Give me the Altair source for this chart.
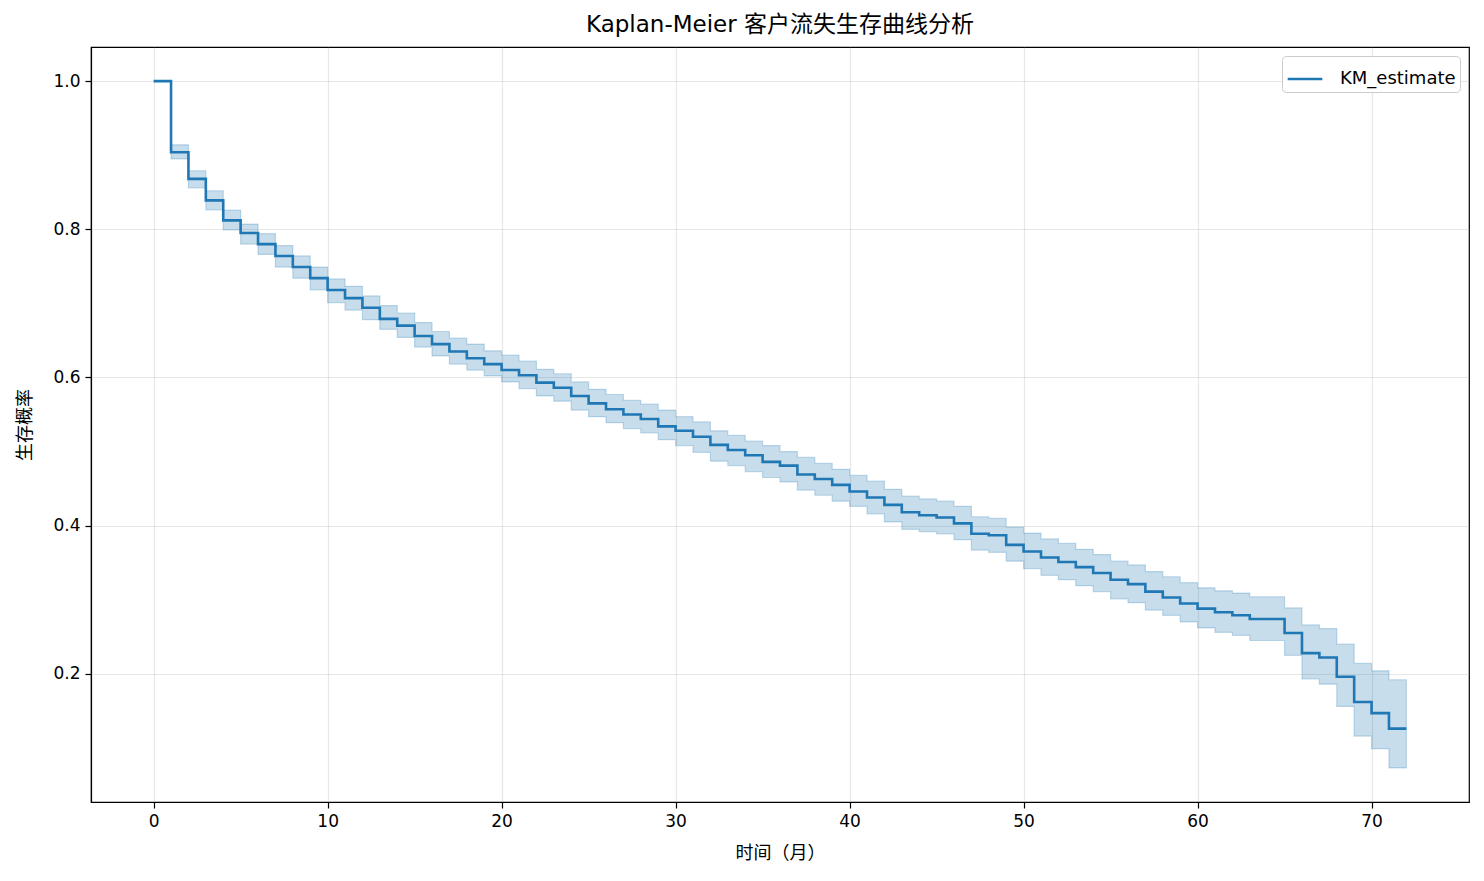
import altair as alt
import pandas as pd

times = list(range(0, 73))
survival = [1.0, 0.904, 0.868, 0.839, 0.812, 0.795, 0.780, 0.764, 0.749, 0.734,
            0.718, 0.707, 0.694, 0.679, 0.670, 0.656, 0.645, 0.635, 0.626, 0.618,
            0.610, 0.603, 0.593, 0.586, 0.575, 0.565, 0.557, 0.550, 0.544, 0.534,
            0.528, 0.520, 0.509, 0.502, 0.495, 0.486, 0.481, 0.469, 0.463, 0.455,
            0.446, 0.438, 0.428, 0.418, 0.414, 0.411, 0.403, 0.389, 0.387, 0.374,
            0.365, 0.357, 0.351, 0.344, 0.336, 0.327, 0.321, 0.311, 0.303, 0.295,
            0.288, 0.283, 0.279, 0.274, 0.274, 0.255, 0.228, 0.222, 0.196, 0.162,
            0.147, 0.126, 0.126]
upper = [1.0, 0.914, 0.879, 0.852, 0.826, 0.807, 0.794, 0.778, 0.764, 0.749,
         0.733, 0.723, 0.710, 0.697, 0.687, 0.674, 0.662, 0.653, 0.645, 0.636,
         0.630, 0.622, 0.611, 0.605, 0.594, 0.584, 0.577, 0.569, 0.564, 0.556,
         0.547, 0.540, 0.528, 0.522, 0.514, 0.508, 0.500, 0.492, 0.484, 0.476,
         0.468, 0.460, 0.449, 0.440, 0.436, 0.433, 0.426, 0.412, 0.410, 0.398,
         0.390, 0.382, 0.376, 0.368, 0.361, 0.352, 0.347, 0.338, 0.331, 0.323,
         0.316, 0.312, 0.309, 0.304, 0.304, 0.289, 0.266, 0.261, 0.240, 0.214,
         0.204, 0.192, 0.192]
lower = [1.0, 0.895, 0.856, 0.826, 0.799, 0.780, 0.766, 0.749, 0.734, 0.718,
         0.701, 0.691, 0.678, 0.665, 0.654, 0.641, 0.629, 0.618, 0.610, 0.602,
         0.594, 0.585, 0.575, 0.568, 0.556, 0.547, 0.539, 0.531, 0.525, 0.516,
         0.508, 0.499, 0.487, 0.481, 0.473, 0.465, 0.459, 0.448, 0.441, 0.433,
         0.426, 0.416, 0.405, 0.395, 0.392, 0.389, 0.381, 0.367, 0.364, 0.352,
         0.342, 0.333, 0.327, 0.319, 0.311, 0.301, 0.296, 0.286, 0.279, 0.270,
         0.262, 0.256, 0.252, 0.245, 0.245, 0.225, 0.193, 0.186, 0.156, 0.116,
         0.099, 0.073, 0.073]

x_ticks = [0, 10, 20, 30, 40, 50, 60, 70]
y_ticks = [0.2, 0.4, 0.6, 0.8, 1.0]

title_text = "Kaplan-Meier 客户流失生存曲线分析"
x_title = "时间（月）"
y_title = "生存概率"
series_name = "KM_estimate"

df = pd.DataFrame({"t": times, "s": survival, "hi": upper, "lo": lower,
                   "series": [series_name] * len(times)})

FONT = "DejaVu Sans, Noto Sans CJK SC, sans-serif"
BLUE = "#1f77b4"

xscale = alt.Scale(domain=[-3.6, 75.6], nice=False, zero=False)
yscale = alt.Scale(domain=[0.027, 1.046], nice=False, zero=False)

xaxis = alt.Axis(values=x_ticks, format="d", title=x_title, grid=True,
                 tickSize=6, labelPadding=5, titlePadding=15)
yaxis = alt.Axis(values=y_ticks, format=".1f", title=y_title, grid=True,
                 tickSize=6, labelPadding=5, titlePadding=18)

band = alt.Chart(df).mark_area(
    interpolate="step-after", fill=BLUE, fillOpacity=0.25,
    stroke=BLUE, strokeOpacity=0.25, strokeWidth=1.2
).encode(
    x=alt.X("t:Q", scale=xscale, axis=xaxis),
    y=alt.Y("lo:Q", scale=yscale, axis=yaxis),
    y2="hi:Q",
)

line = alt.Chart(df).mark_line(interpolate="step-after", strokeWidth=2.6).encode(
    x=alt.X("t:Q", scale=xscale),
    y=alt.Y("s:Q", scale=yscale),
    color=alt.Color("series:N",
                    scale=alt.Scale(domain=[series_name], range=[BLUE]),
                    legend=alt.Legend(title=None, orient="top-right", offset=9,
                                      symbolType="stroke", symbolStrokeWidth=2.6,
                                      symbolSize=1200, labelFontSize=18,
                                      labelFont=FONT, labelColor="black",
                                      labelOffset=16, padding=4,
                                      strokeColor="#cccccc",
                                      fillColor="white", cornerRadius=4)),
)

chart = (band + line).properties(
    width=1378, height=755,
    title=alt.TitleParams(title_text, fontSize=23, font=FONT, fontWeight="normal",
                          color="black", offset=10),
    autosize=alt.AutoSizeParams(type="none"),
    padding={"left": 91, "top": 47, "right": 15, "bottom": 79},
).configure(
    background="white"
).configure_view(
    stroke="black", strokeWidth=1.2
).configure_axis(
    labelFont=FONT, titleFont=FONT, labelFontSize=17, titleFontSize=18,
    labelColor="black", titleColor="black", titleFontWeight="normal",
    domainColor="black", tickColor="black", domainWidth=1.2, tickWidth=1.2,
    gridColor="#b0b0b0", gridOpacity=0.3, gridWidth=1.2,
)

chart.save("out.html", embed_options={"renderer": "svg", "actions": False})
